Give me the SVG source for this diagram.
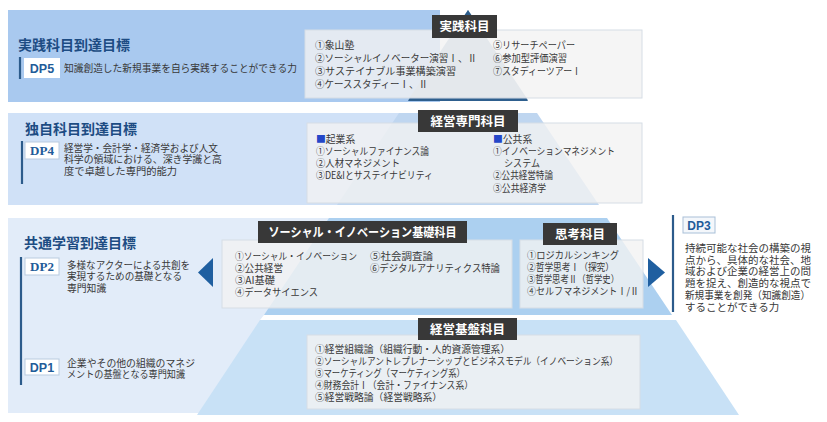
<svg xmlns="http://www.w3.org/2000/svg" width="827" height="422" viewBox="0 0 827 422">
<style>
.t{font-family:"Noto Sans CJK JP","Noto Sans",sans-serif;font-size:9.8px;fill:#383838}
.d3{font-family:"Noto Sans CJK JP","Noto Sans",sans-serif;font-size:10.5px;fill:#383838}
.title{font-family:"Noto Sans CJK JP","Noto Sans",sans-serif;font-size:14px;font-weight:bold;fill:#1d4c83}
.lab{font-family:"Noto Sans CJK JP","Noto Sans",sans-serif;font-size:12.5px;font-weight:bold;fill:#ffffff;text-anchor:middle}
.labbox{fill:#383838}
.box{fill:#f2f2f2;fill-opacity:0.8;stroke:#d6dde5;stroke-width:1}
.dpbox{fill:#ffffff;stroke:#b9cbe0;stroke-width:1}
.dp{font-family:"Liberation Sans",sans-serif;font-weight:bold;font-size:12.5px;fill:#1f5c99;text-anchor:middle}
.dps{font-family:"Liberation Serif",serif;font-weight:bold;font-size:13px;fill:#1f5c99;text-anchor:middle}
.vl{stroke:#2c5b8b;stroke-width:2.2}
.sq{fill:#2447c8}
.arr{fill:#1f5fa0}
</style>

<g id="background">
  <rect x="8" y="10" width="432" height="92" fill="#a9c9ef"/>
  <rect x="8" y="113" width="462" height="92" fill="#d0e1f7"/>
  <rect x="8" y="218" width="462" height="195" fill="#e2ecf9"/>
  <polygon points="468,10 528,100 408,100" fill="#a8bed3"/>
  <polygon points="468,10 463.3,17 472.7,17" fill="#2b5c8a"/>
  <polygon points="410,97.5 526,97.5 528,101 408,101" fill="#2e5f8e"/>
  <polygon points="399,113 537,113 599,205 337,205" fill="#bfd6f0"/>
  <polygon points="329,218 607,218 672,315 264,315" fill="#acd0f0"/>
  <polygon points="264,315 672,315 676,320 260,320" fill="#ffffff"/>
  <polygon points="260,320 676,320 739,415 197,415" fill="#c8e1f6"/>
</g>

<g id="goal-dp5">
  <text class="title" x="18" y="50">実践科目到達目標</text>
  <line class="vl" x1="20" y1="57" x2="20" y2="79"/>
  <rect x="24" y="58" width="36" height="20" fill="#ffffff"/>
  <text class="dp" x="42" y="72.5">DP5</text>
  <text class="t" x="64" y="71.5" textLength="233" lengthAdjust="spacingAndGlyphs">知識創造した新規事業を自ら実践することができる力</text>
</g>

<g id="goal-dp4">
  <text class="title" x="25" y="134">独自科目到達目標</text>
  <line class="vl" x1="22" y1="141" x2="22" y2="184"/>
  <rect class="dpbox" x="25" y="142" width="34" height="17"/>
  <text class="dps" x="42" y="155">DP4</text>
  <text class="t" x="64" y="151.5" textLength="154" lengthAdjust="spacingAndGlyphs">経営学・会計学・経済学および人文</text>
  <text class="t" x="64" y="163" textLength="158" lengthAdjust="spacingAndGlyphs">科学の領域における、深き学識と高</text>
  <text class="t" x="64" y="175" textLength="113" lengthAdjust="spacingAndGlyphs">度で卓越した専門的能力</text>
</g>

<g id="goal-dp2-dp1">
  <text class="title" x="24" y="248">共通学習到達目標</text>
  <line class="vl" x1="21" y1="257" x2="21" y2="385"/>
  <rect class="dpbox" x="25" y="258" width="34" height="17"/>
  <text class="dps" x="42" y="271">DP2</text>
  <text class="t" x="67" y="268.5" textLength="123" lengthAdjust="spacingAndGlyphs">多様なアクターによる共創を</text>
  <text class="t" x="67" y="280" textLength="115" lengthAdjust="spacingAndGlyphs">実現するための基礎となる</text>
  <text class="t" x="67" y="291.5">専門知識</text>
  <rect class="dpbox" x="25" y="359" width="34" height="16"/>
  <text class="dp" x="42" y="371.5">DP1</text>
  <text class="t" x="67" y="366.5" textLength="128" lengthAdjust="spacingAndGlyphs">企業やその他の組織のマネジ</text>
  <text class="t" x="67" y="378" textLength="118" lengthAdjust="spacingAndGlyphs">メントの基盤となる専門知識</text>
</g>

<g id="goal-dp3">
  <line class="vl" x1="673" y1="215" x2="673" y2="312"/>
  <rect x="683" y="217" width="32" height="16" fill="#f4f7fb" stroke="#a9c0d8" stroke-width="1"/>
  <text class="dp" x="699" y="229.5" style="font-size:12px">DP3</text>
  <text class="d3" x="685" y="252">持続可能な社会の構築の視</text>
  <text class="d3" x="685" y="263.5">点から、具体的な社会、地</text>
  <text class="d3" x="685" y="275">域および企業の経営上の問</text>
  <text class="d3" x="685" y="287">題を捉え、創造的な視点で</text>
  <text class="d3" x="685" y="298.5" textLength="125" lengthAdjust="spacingAndGlyphs">新規事業を創発（知識創造）</text>
  <text class="d3" x="685" y="310.5">することができる力</text>
</g>

<g id="course-jissen">
  <rect class="box" x="305" y="30" width="337" height="68"/>
  <rect class="labbox" x="432" y="15" width="65" height="23"/>
  <text class="lab" x="464.5" y="31">実践科目</text>
  <text class="t" x="315" y="48.5">①象山塾</text>
  <text class="t" x="315" y="61.5" textLength="162" lengthAdjust="spacingAndGlyphs">②ソーシャルイノベーター演習Ⅰ、Ⅱ</text>
  <text class="t" x="315" y="74.5" textLength="141" lengthAdjust="spacingAndGlyphs">③サステイナブル事業構築演習</text>
  <text class="t" x="315" y="87.5" textLength="113" lengthAdjust="spacingAndGlyphs">④ケーススタディーⅠ、Ⅱ</text>
  <text class="t" x="493" y="48.5" textLength="82" lengthAdjust="spacingAndGlyphs">⑤リサーチペーパー</text>
  <text class="t" x="493" y="61.5" textLength="74" lengthAdjust="spacingAndGlyphs">⑥参加型評価演習</text>
  <text class="t" x="493" y="74.5" textLength="88" lengthAdjust="spacingAndGlyphs">⑦スタディーツアーⅠ</text>
</g>

<g id="course-senmon">
  <rect class="box" x="307" y="123" width="335" height="80"/>
  <rect class="labbox" x="418" y="110" width="100" height="22"/>
  <text class="lab" x="468" y="125.5">経営専門科目</text>
  <text class="t" x="316" y="142.5"><tspan class="sq">■</tspan>起業系</text>
  <text class="t" x="316" y="154.5" textLength="113" lengthAdjust="spacingAndGlyphs">①ソーシャルファイナンス論</text>
  <text class="t" x="316" y="166.5" textLength="84" lengthAdjust="spacingAndGlyphs">②人材マネジメント</text>
  <text class="t" x="316" y="179" textLength="117" lengthAdjust="spacingAndGlyphs">③DE&amp;Iとサステイナビリティ</text>
  <text class="t" x="493" y="142.5"><tspan class="sq">■</tspan>公共系</text>
  <text class="t" x="493" y="154.5" textLength="122" lengthAdjust="spacingAndGlyphs">①イノベーションマネジメント</text>
  <text class="t" x="504" y="166.5" textLength="36" lengthAdjust="spacingAndGlyphs">システム</text>
  <text class="t" x="493" y="179" textLength="60" lengthAdjust="spacingAndGlyphs">②公共経営特論</text>
  <text class="t" x="493" y="191.5" textLength="53" lengthAdjust="spacingAndGlyphs">③公共経済学</text>
</g>

<g id="course-kiso">
  <rect class="box" x="222" y="240" width="290" height="68"/>
  <rect class="labbox" x="258" y="221" width="209" height="22"/>
  <text class="lab" x="362.5" y="236.5" textLength="188" lengthAdjust="spacingAndGlyphs">ソーシャル・イノベーション基礎科目</text>
  <text class="t" x="235" y="259.5" textLength="122" lengthAdjust="spacingAndGlyphs">①ソーシャル・イノベーション</text>
  <text class="t" x="235" y="271.5" textLength="48" lengthAdjust="spacingAndGlyphs">②公共経営</text>
  <text class="t" x="235" y="283.5" textLength="40" lengthAdjust="spacingAndGlyphs">③AI基礎</text>
  <text class="t" x="235" y="296" textLength="83" lengthAdjust="spacingAndGlyphs">④データサイエンス</text>
  <text class="t" x="370" y="259.5" textLength="63" lengthAdjust="spacingAndGlyphs">⑤社会調査論</text>
  <text class="t" x="370" y="271.5" textLength="130" lengthAdjust="spacingAndGlyphs">⑥デジタルアナリティクス特論</text>
</g>

<g id="course-shiko">
  <rect class="box" x="520" y="240" width="123" height="68"/>
  <rect class="labbox" x="543" y="223" width="74" height="22"/>
  <text class="lab" x="580" y="238.5">思考科目</text>
  <text class="t" x="527" y="258.5" textLength="92" lengthAdjust="spacingAndGlyphs">①ロジカルシンキング</text>
  <text class="t" x="527" y="270.5" textLength="87" lengthAdjust="spacingAndGlyphs">②哲学思考Ⅰ（探究）</text>
  <text class="t" x="527" y="283" textLength="92" lengthAdjust="spacingAndGlyphs">③哲学思考Ⅱ（哲学史）</text>
  <text class="t" x="527" y="295" textLength="112" lengthAdjust="spacingAndGlyphs">④セルフマネジメントⅠ/Ⅱ</text>
</g>

<g id="course-kiban">
  <rect class="box" x="307" y="335" width="333" height="74"/>
  <rect class="labbox" x="418" y="318" width="99" height="22"/>
  <text class="lab" x="467.5" y="333.5">経営基盤科目</text>
  <text class="t" x="315" y="352.5" textLength="195" lengthAdjust="spacingAndGlyphs">①経営組織論（組織行動・人的資源管理系）</text>
  <text class="t" x="315" y="364.5" textLength="303" lengthAdjust="spacingAndGlyphs">②ソーシャルアントレプレナーシップとビジネスモデル（イノベーション系）</text>
  <text class="t" x="315" y="376.5" textLength="150" lengthAdjust="spacingAndGlyphs">③マーケティング（マーケティング系）</text>
  <text class="t" x="315" y="388.5" textLength="158" lengthAdjust="spacingAndGlyphs">④財務会計Ⅰ（会計・ファイナンス系）</text>
  <text class="t" x="315" y="400.5" textLength="127" lengthAdjust="spacingAndGlyphs">⑤経営戦略論（経営戦略系）</text>
</g>

<g id="connectors">
  <polygon class="arr" points="198,272.5 213,258 213,287"/>
  <polygon class="arr" points="665,272.5 648,258 648,287"/>
</g>
</svg>
